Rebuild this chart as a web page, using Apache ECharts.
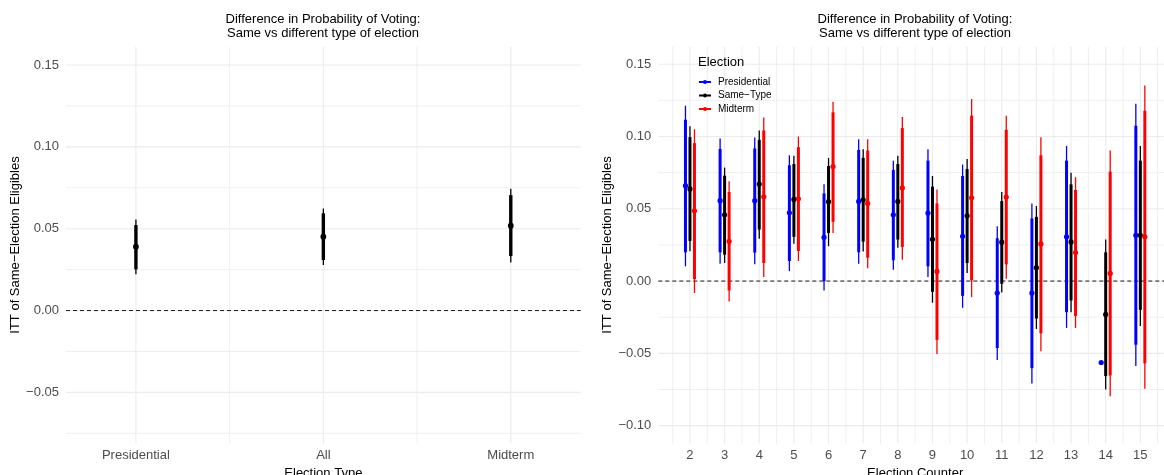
<!DOCTYPE html>
<html>
<head>
<meta charset="utf-8">
<script src="https://cdn.jsdelivr.net/npm/echarts@6/dist/echarts.min.js"></script>
<style>
html,body{margin:0;padding:0;background:#fff;}
#chart{width:1164px;height:475px;}
</style>
</head>
<body>
<div id="chart"></div>
<script>
// ---------- Data ----------
const leftCats = ['Presidential', 'All', 'Midterm'];
const leftEst  = [0.0390, 0.0451, 0.0518];
const leftLo90 = [0.0252, 0.0309, 0.0333];
const leftHi90 = [0.0522, 0.0594, 0.0705];
const leftLo95 = [0.0222, 0.0279, 0.0293];
const leftHi95 = [0.0557, 0.0624, 0.0744];

const counters = [2, 3, 4, 5, 6, 7, 8, 9, 10, 11, 12, 13, 14, 15];

const presEst  = [0.0660, 0.0556, 0.0556, 0.0472, 0.0303, 0.0551, 0.0458, 0.0470, 0.0310, -0.0083, -0.0083, 0.0306, -0.0563, 0.0317];
const presLo90 = [0.0199, 0.0199, 0.0197, 0.0139, 0.0000, 0.0199, 0.0144, 0.0102, -0.0102, -0.0463, -0.0602, -0.0215, null, -0.0440];
const presHi90 = [0.1116, 0.0914, 0.0917, 0.0801, 0.0606, 0.0907, 0.0769, 0.0833, 0.0727, 0.0296, 0.0433, 0.0833, null, 0.1074];
const presLo95 = [0.0102, 0.0120, 0.0116, 0.0069, -0.0065, 0.0120, 0.0079, 0.0028, -0.0185, -0.0546, -0.0708, -0.0324, null, -0.0588];
const presHi95 = [0.1213, 0.0986, 0.0993, 0.0870, 0.0669, 0.0981, 0.0833, 0.0912, 0.0806, 0.0380, 0.0537, 0.0935, null, 0.1227];

const sameEst  = [0.0637, 0.0458, 0.0671, 0.0565, 0.0549, 0.0562, 0.0551, 0.0289, 0.0451, 0.0269, 0.0093, 0.0271, -0.0231, 0.0317];
const sameLo90 = [0.0278, 0.0183, 0.0356, 0.0306, 0.0333, 0.0273, 0.0287, -0.0074, 0.0125, -0.0019, -0.0259, -0.0134, -0.0657, -0.0199];
const sameHi90 = [0.0995, 0.0729, 0.0977, 0.0810, 0.0796, 0.0852, 0.0810, 0.0653, 0.0775, 0.0553, 0.0444, 0.0669, 0.0199, 0.0833];
const sameLo95 = [0.0206, 0.0125, 0.0292, 0.0259, 0.0241, 0.0204, 0.0231, -0.0150, 0.0056, -0.0079, -0.0331, -0.0215, -0.0750, -0.0310];
const sameHi95 = [0.1070, 0.0785, 0.1042, 0.0866, 0.0852, 0.0912, 0.0866, 0.0727, 0.0845, 0.0616, 0.0519, 0.0750, 0.0287, 0.0935];

const midEst  = [0.0486, 0.0275, 0.0583, 0.0569, 0.0792, 0.0537, 0.0644, 0.0067, 0.0576, 0.0581, 0.0257, 0.0197, 0.0053, 0.0306];
const midLo90 = [0.0014, -0.0065, 0.0125, 0.0208, 0.0410, 0.0162, 0.0236, -0.0407, 0.0005, 0.0116, -0.0361, -0.0241, -0.0653, -0.0569];
const midHi90 = [0.0954, 0.0616, 0.1042, 0.0926, 0.1167, 0.0903, 0.1058, 0.0537, 0.1144, 0.1046, 0.0870, 0.0630, 0.0757, 0.1178];
const midLo95 = [-0.0083, -0.0141, 0.0028, 0.0139, 0.0333, 0.0088, 0.0148, -0.0505, -0.0111, 0.0016, -0.0486, -0.0324, -0.0796, -0.0745];
const midHi95 = [0.1050, 0.0690, 0.1132, 0.1000, 0.1241, 0.0981, 0.1134, 0.0634, 0.1259, 0.1144, 0.0995, 0.0718, 0.0903, 0.1352];

const leftYTicks  = [-0.05, 0, 0.05, 0.10, 0.15];
const rightYTicks = [-0.10, -0.05, 0, 0.05, 0.10, 0.15];
const leftHGrid  = [-0.075, -0.05, -0.025, 0, 0.025, 0.05, 0.075, 0.10, 0.125, 0.15];
const rightHGrid = [-0.10, -0.075, -0.05, -0.025, 0, 0.025, 0.05, 0.075, 0.10, 0.125, 0.15];
const leftVGrid  = [1, 1.5, 2, 2.5, 3];
const rightVGrid = [1.5, 2, 2.5, 3, 3.5, 4, 4.5, 5, 5.5, 6, 6.5, 7, 7.5, 8, 8.5, 9, 9.5, 10, 10.5, 11, 11.5, 12, 12.5, 13, 13.5, 14, 14.5, 15, 15.5];

const titleText = 'Difference in Probability of Voting:\nSame vs different type of election';
const yTitle = 'ITT of Same\u2212Election Eligibles';
const legendNames = ['Presidential', 'Same\u2212Type', 'Midterm'];

// ---------- helpers ----------
const FONT = "'Liberation Sans', Arial, Helvetica, sans-serif";
const GRIDC = '#ebebeb';

function rows(xs, est, lo90, hi90, lo95, hi95) {
  return xs.map((x, i) => [x, est[i], lo90[i], hi90[i], lo95[i], hi95[i]]);
}
function fmtY(v) {
  const s = Math.abs(v).toFixed(2);
  return (v < -1e-9 ? '\u2212' : '') + s;
}
function isMult(v, step) {
  const q = v / step;
  return Math.abs(q - Math.round(q)) < 1e-6;
}
function hGridSeries(gi, vals, majorStep) {
  return {
    type: 'custom', xAxisIndex: gi, yAxisIndex: gi, silent: true, z: 0, clip: false,
    data: vals.map(v => [v, v]), encode: {x: 0, y: 1},
    renderItem: function (params, api) {
      const cs = params.coordSys;
      const v = api.value(1);
      const y = api.coord([api.value(0), v])[1];
      return {type: 'line', shape: {x1: cs.x, y1: y, x2: cs.x + cs.width, y2: y},
        style: {stroke: GRIDC, lineWidth: isMult(v, majorStep) ? 1.1 : 0.8}};
    }
  };
}
function vGridSeries(gi, vals) {
  return {
    type: 'custom', xAxisIndex: gi, yAxisIndex: gi, silent: true, z: 0, clip: false,
    data: vals.map(v => [v, 0]), encode: {x: 0, y: 1},
    renderItem: function (params, api) {
      const cs = params.coordSys;
      const v = api.value(0);
      const x = api.coord([v, 0])[0];
      return {type: 'line', shape: {x1: x, y1: cs.y, x2: x, y2: cs.y + cs.height},
        style: {stroke: GRIDC, lineWidth: isMult(v, 1) ? 1.1 : 0.8}};
    }
  };
}
function zeroSeries(gi) {
  return {
    type: 'custom', xAxisIndex: gi, yAxisIndex: gi, silent: true, z: 1, clip: false,
    data: [[0, 0]], encode: {x: 0, y: 1},
    renderItem: function (params, api) {
      const cs = params.coordSys;
      const y = api.coord([api.value(0), api.value(1)])[1];
      return {type: 'line', shape: {x1: cs.x, y1: y, x2: cs.x + cs.width, y2: y},
        style: {stroke: '#000', lineWidth: 0.9, lineDash: [4, 3]}};
    }
  };
}
function errSeries(gi, name, data, color, offset, thinW, thickW, r) {
  return {
    type: 'custom', name: name, xAxisIndex: gi, yAxisIndex: gi, z: 2, clip: false,
    itemStyle: {color: color},
    dimensions: ['x', 'est', 'lo90', 'hi90', 'lo95', 'hi95'],
    encode: {x: 'x', y: 'est'},
    data: data,
    renderItem: function (params, api) {
      const x = api.value(0) + offset;
      const kids = [];
      const seg = (lo, hi, w) => {
        if (isNaN(lo) || isNaN(hi)) return;
        const a = api.coord([x, lo]), b = api.coord([x, hi]);
        kids.push({type: 'line', shape: {x1: a[0], y1: a[1], x2: b[0], y2: b[1]},
          style: {stroke: color, lineWidth: w}});
      };
      seg(api.value(4), api.value(5), thinW);
      seg(api.value(2), api.value(3), thickW);
      const c = api.coord([x, api.value(1)]);
      kids.push({type: 'circle', shape: {cx: c[0], cy: c[1], r: r}, style: {fill: color}});
      return {type: 'group', children: kids};
    }
  };
}
function xAxisCfg(gi, min, max, ticks, fmt, name) {
  return {
    type: 'value', gridIndex: gi, min: min, max: max,
    axisLine: {show: false, onZero: false},
    splitLine: {show: false}, axisTick: {show: false, customValues: ticks},
    axisLabel: {customValues: ticks, formatter: fmt, color: '#4d4d4d', fontSize: 13, fontFamily: FONT, margin: 6},
    name: name, nameLocation: 'middle', nameGap: 15,
    nameTextStyle: {color: '#000', fontSize: 13, fontFamily: FONT}
  };
}
function yAxisCfg(gi, min, max, ticks) {
  return {
    type: 'value', gridIndex: gi, min: min, max: max,
    axisLine: {show: false, onZero: false},
    splitLine: {show: false}, axisTick: {show: false, customValues: ticks},
    axisLabel: {customValues: ticks, formatter: fmtY, color: '#4d4d4d', fontSize: 13, fontFamily: FONT, margin: 7},
    name: yTitle, nameLocation: 'middle', nameGap: 44,
    nameTextStyle: {color: '#000', fontSize: 13, fontFamily: FONT}
  };
}

const legendIcon = 'path://M0,2.5H8.4V6.5H0Z M15.6,2.5H24V6.5H15.6Z M8,4.5A4,4 0 1 1 16,4.5A4,4 0 1 1 8,4.5Z';

const option = {
  animation: false,
  backgroundColor: '#fff',
  textStyle: {fontFamily: FONT},
  title: [
    {text: titleText, left: 323, top: 12, textAlign: 'center', padding: 0,
     textStyle: {fontSize: 13, fontWeight: 'normal', color: '#000', lineHeight: 14, fontFamily: FONT, align: 'center'}},
    {text: titleText, left: 915, top: 12, textAlign: 'center', padding: 0,
     textStyle: {fontSize: 13, fontWeight: 'normal', color: '#000', lineHeight: 14, fontFamily: FONT, align: 'center'}},
    {text: 'Election', left: 698, top: 56, padding: 0,
     textStyle: {fontSize: 13, fontWeight: 'normal', color: '#000', fontFamily: FONT}}
  ],
  legend: {
    data: legendNames, orient: 'vertical', left: 699, top: 76, padding: 0,
    itemWidth: 12, itemHeight: 4, itemGap: 1.5, icon: legendIcon, selectedMode: false,
    textStyle: {fontSize: 10, color: '#000', fontFamily: FONT, lineHeight: 12, padding: [0, 0, 0, 2]}
  },
  grid: [
    {left: 66, right: 583.3, top: 46.7, bottom: 31.7, outerBoundsMode: 'none', containLabel: false},
    {left: 658.3, right: -8, top: 46.7, bottom: 31.7, outerBoundsMode: 'none', containLabel: false}
  ],
  xAxis: [
    xAxisCfg(0, 0.627, 3.373, [1, 2, 3], v => leftCats[Math.round(v) - 1] || '', 'Election Type'),
    xAxisCfg(1, 1.086, 15.914, counters, v => String(Math.round(v)), 'Election Counter')
  ],
  yAxis: [
    yAxisCfg(0, -0.0811, 0.1612, leftYTicks),
    yAxisCfg(1, -0.1122, 0.1621, rightYTicks)
  ],
  series: [
    hGridSeries(0, leftHGrid, 0.05),
    vGridSeries(0, leftVGrid),
    hGridSeries(1, rightHGrid, 0.05),
    vGridSeries(1, rightVGrid),
    zeroSeries(0),
    zeroSeries(1),
    errSeries(0, 'All types', rows([1, 2, 3], leftEst, leftLo90, leftHi90, leftLo95, leftHi95), '#000000', 0, 1.3, 3.4, 2.9),
    errSeries(1, legendNames[0], rows(counters, presEst, presLo90, presHi90, presLo95, presHi95), '#0000ff', -0.13, 1.3, 3, 2.6),
    errSeries(1, legendNames[1], rows(counters, sameEst, sameLo90, sameHi90, sameLo95, sameHi95), '#000000', 0, 1.3, 3, 2.6),
    errSeries(1, legendNames[2], rows(counters, midEst, midLo90, midHi90, midLo95, midHi95), '#ff0000', 0.13, 1.3, 3, 2.6)
  ]
};

const chart = echarts.init(document.getElementById('chart'), null, {renderer: 'canvas'});
chart.setOption(option);
</script>
</body>
</html>
